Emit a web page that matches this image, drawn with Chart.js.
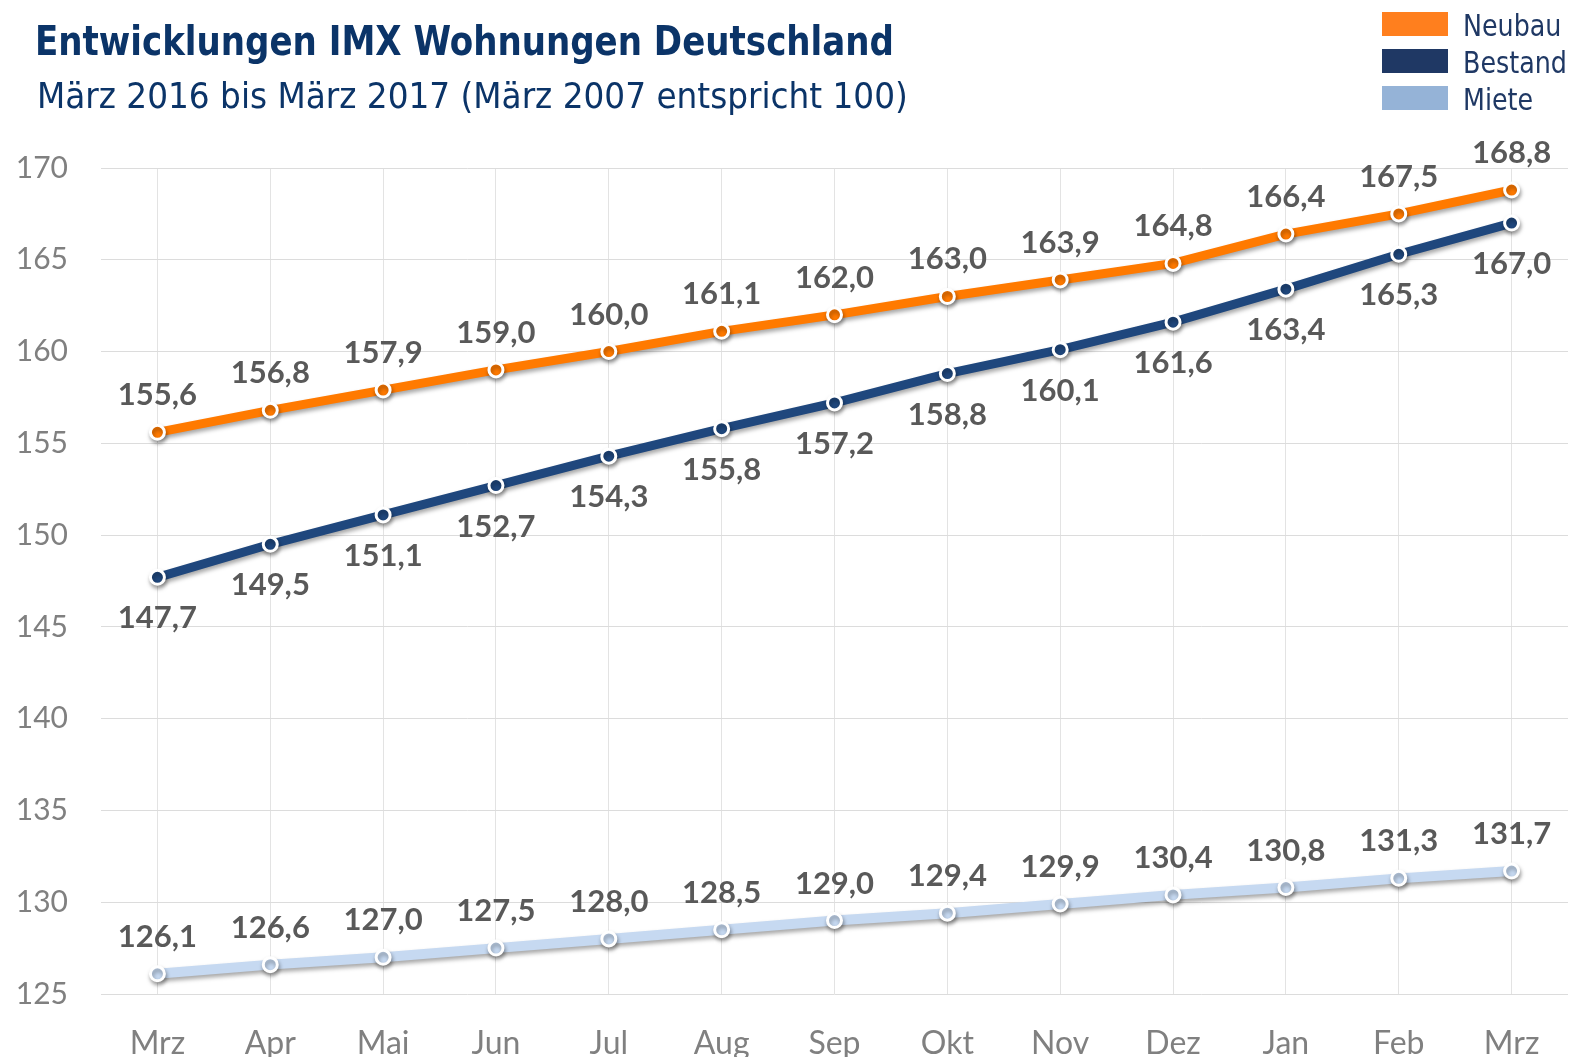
<!DOCTYPE html>
<html>
<head>
<meta charset="utf-8">
<script src="https://cdn.jsdelivr.net/npm/chart.js"></script>
<style>
    body { margin: 0; background: #fff; }
    #wrap { position: relative; width: 1582px; height: 1057px; overflow: hidden; }
    #chart { position: absolute; left: 0; top: 0; }
    .title { position: absolute; left: 35px; top: 21px; font: bold 41px/41px "DejaVu Sans Condensed", "DejaVu Sans", sans-serif; color: #0b3468; white-space: nowrap; transform: scaleX(0.924); transform-origin: 0 0; }
    .subtitle { position: absolute; left: 37px; top: 79px; font: 35px/35px "DejaVu Sans Condensed", "DejaVu Sans", sans-serif; color: #0b3468; white-space: nowrap; transform: scaleX(1.04); transform-origin: 0 0; }
    .legend { position: absolute; left: 1382px; top: 0; }
    .legend-item { position: absolute; left: 0; width: 200px; height: 30px; }
    .legend-item .swatch { position: absolute; left: 0; top: 3px; width: 66px; height: 24px; }
    .legend-item .label { position: absolute; left: 81px; top: 2px; font: 30px/30px "DejaVu Sans Condensed", "DejaVu Sans", sans-serif; color: #1f3864; white-space: nowrap; transform: scaleX(0.94); transform-origin: 0 0; }
</style>
</head>
<body>
<div id="wrap">
    <canvas id="chart" width="1582" height="1057"></canvas>
    <div class="title">Entwicklungen IMX Wohnungen Deutschland</div>
    <div class="subtitle">März 2016 bis März 2017 (März 2007 entspricht 100)</div>
    <div class="legend" id="legend"></div>
</div>
<script>
const MONTHS = ["Mrz", "Apr", "Mai", "Jun", "Jul", "Aug", "Sep", "Okt", "Nov", "Dez", "Jan", "Feb", "Mrz"];
const NEUBAU = [155.6, 156.8, 157.9, 159.0, 160.0, 161.1, 162.0, 163.0, 163.9, 164.8, 166.4, 167.5, 168.8];
const BESTAND = [147.7, 149.5, 151.1, 152.7, 154.3, 155.8, 157.2, 158.8, 160.1, 161.6, 163.4, 165.3, 167.0];
const MIETE = [126.1, 126.6, 127.0, 127.5, 128.0, 128.5, 129.0, 129.4, 129.9, 130.4, 130.8, 131.3, 131.7];
const SERIES_NAMES = ["Neubau", "Bestand", "Miete"];
const LINE_COLORS = ["#ff7a00", "#1f477d", "#c6d9f1"];
const SWATCH_COLORS = ["#ff7f1e", "#1f3864", "#95b3d7"];
const LINE_WIDTHS = [9, 9, 10];
const LABEL_POS = ["above", "below", "above"];
const Y_MIN = 125, Y_MAX = 170, Y_STEP = 5;

// legend in html
var legend = document.getElementById("legend");
SERIES_NAMES.forEach(function (name, i) {
    legend.innerHTML += `<div class="legend-item" style="top:${9 + i * 37}px">
            <div class="swatch" style="background:${SWATCH_COLORS[i]}"></div>
            <div class="label">${name}</div>
        </div>`;
});

function fmt(v) {
    return v.toFixed(1).replace(".", ",");
}

// soft shadow under the lines
const lineShadow = {
    id: "lineShadow",
    beforeDatasetDraw(chart) {
        const ctx = chart.ctx;
        ctx.save();
        ctx.shadowColor = "rgba(0,0,0,0.35)";
        ctx.shadowBlur = 4;
        ctx.shadowOffsetX = 1;
        ctx.shadowOffsetY = 3;
    },
    afterDatasetDraw(chart) {
        chart.ctx.restore();
    }
};

// value labels above / below the points
const valueLabels = {
    id: "valueLabels",
    afterDatasetsDraw(chart) {
        const ctx = chart.ctx;
        ctx.save();
        ctx.font = "bold 31px Lato";
        ctx.fillStyle = "#595959";
        ctx.textAlign = "center";
        ctx.textBaseline = "middle";
        chart.data.datasets.forEach(function (ds, di) {
            const meta = chart.getDatasetMeta(di);
            meta.data.forEach(function (pt, i) {
                const off = LABEL_POS[di] === "above" ? -37 : 41;
                ctx.fillText(fmt(ds.data[i]), pt.x, pt.y + off);
            });
        });
        ctx.restore();
    }
};

function makeDataset(i, values) {
    return {
        label: SERIES_NAMES[i],
        data: values,
        borderColor: LINE_COLORS[i],
        backgroundColor: LINE_COLORS[i],
        borderWidth: LINE_WIDTHS[i],
        pointRadius: 7,
        pointBorderWidth: 3,
        pointBorderColor: "#ffffff",
        pointBackgroundColor: LINE_COLORS[i],
        tension: 0
    };
}

const ctx = document.getElementById("chart");
const myChart = new Chart(ctx, {
    type: "line",
    data: {
        labels: MONTHS,
        datasets: [
            makeDataset(2, MIETE),
            makeDataset(1, BESTAND),
            makeDataset(0, NEUBAU)
        ]
    },
    options: {
        responsive: false,
        animation: false,
        devicePixelRatio: 1,
        layout: { padding: { top: 168, right: 14, left: 0, bottom: 0 } },
        plugins: {
            legend: { display: false },
            tooltip: { enabled: false }
        },
        scales: {
            x: {
                offset: true,
                grid: { color: "#e3e3e3", lineWidth: 1, offset: false, drawTicks: false },
                border: { display: false },
                ticks: { color: "#808080", font: { family: "Lato", size: 32 }, padding: 30, maxRotation: 0 },
                afterFit: function (scale) { scale.height = 63; }
            },
            y: {
                min: Y_MIN,
                max: Y_MAX,
                grid: { color: "#dcdcdc", lineWidth: 1, drawTicks: false },
                border: { display: false },
                ticks: { stepSize: Y_STEP, color: "#808080", font: { family: "Lato", size: 30 }, padding: 33 },
                afterFit: function (scale) { scale.width = 101; }
            }
        }
    },
    plugins: [lineShadow, valueLabels]
});
</script>
</body>
</html>
